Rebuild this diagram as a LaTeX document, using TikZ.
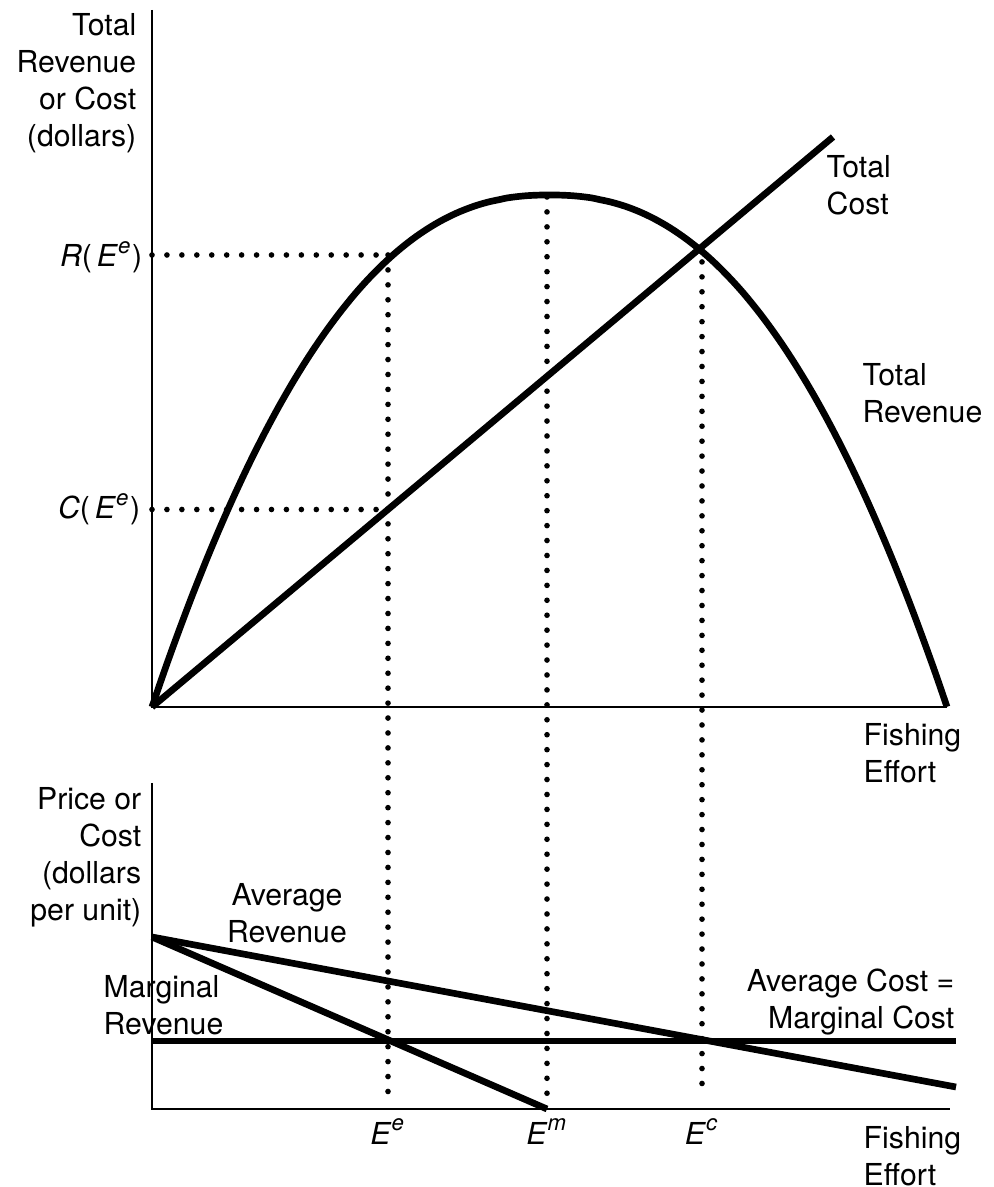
\documentclass[tikz,border=0pt]{standalone}
\usepackage{fontspec}
\setmainfont{TeX Gyre Heros}
\usetikzlibrary{positioning}

\tikzset{
  curve/.style={line width=1.9pt},
  axis/.style={line width=0.7pt},
  guide/.style={line width=1.6pt, dash pattern=on 0pt off 4.25pt, line cap=round},
  lbl/.style={inner sep=0pt, font=\fontsize{8.6}{10.5}\selectfont}
}
\newcommand{\Eff}[1]{\textit{E}\textsuperscript{\fontsize{6.3}{7}\selectfont\textit{#1}}}

\begin{document}
\begin{tikzpicture}
\useasboundingbox (-1.52,-4.80) rectangle (8.42,7.07);

% Upper panel: totals
\coordinate (O) at (0,0);
\draw[axis] (0,6.97) -- (O) -- (7.95,0);
\draw[curve] plot[domain=0:7.95, samples=120, smooth] (\x, {5.12*(1-pow(abs(\x/3.975-1),2.3))});
\coordinate (tc) at (6.81,5.70);
\draw[curve] (O) -- (tc);

% Key points on the curves
\coordinate (Re) at (2.36,4.52);
\coordinate (Ce) at (2.36,1.975);
\coordinate (Rm) at (3.95,5.10);
\coordinate (Rc) at (5.50,4.60);

% Lower panel: per unit
\coordinate (P) at (0,-4.02);
\coordinate (pa) at (0,-2.30);
\draw[axis] (0,-0.76) -- (P) -- (7.98,-4.02);
\draw[curve] (pa) -- (8.04,-3.80);
\draw[curve] (pa) -- (3.95,-4.02);
\draw[curve] (0,-3.34) -- (8.04,-3.34);

% Dotted guides
\coordinate (ee) at (2.36,-3.90);
\coordinate (em) at (3.95,-3.90);
\coordinate (ec) at (5.50,-3.90);
\draw[guide] (0,4.52) -- (Re);
\draw[guide] (0,1.975) -- (Ce);
\foreach \top/\bot in {Re/ee, Rm/em, Rc/ec} {
    \draw[guide] (\top) -- (\bot);
}

% Labels, upper panel
\node[lbl, anchor=north east, align=right] (ylab) at (-0.15,6.94) {Total\\Revenue\\or Cost\\(dollars)};
\node[lbl, anchor=east] (rlab) at (-0.09,4.50) {\textit{R}(\,\Eff{e})};
\node[lbl, anchor=east] (clab) at (-0.11,1.975) {\textit{C}(\,\Eff{e})};
\node[lbl, anchor=north west, align=left] (tclab) at (6.74,5.52) {Total\\Cost};
\node[lbl, anchor=north west, align=left] (trlab) at (7.10,3.44) {Total\\Revenue};
\node[lbl, anchor=north west, align=left] (xlab) at (7.11,-0.16) {Fishing\\Effort};

% Labels, lower panel
\node[lbl, anchor=north east, align=right] (plab) at (-0.10,-0.80) {Price or\\Cost\\(dollars\\per unit)};
\node[lbl, anchor=north, align=center] (arlab) at (1.35,-1.76) {Average\\Revenue};
\node[lbl, anchor=north west, align=left] (mrlab) at (-0.49,-2.68) {Marginal\\Revenue};
\node[lbl, anchor=north east, align=right] (mclab) at (8.03,-2.61) {Average Cost =\\Marginal Cost};
\node[lbl, below=0.09 of ee |- P] (eelab) {\Eff{e}};
\node[lbl, below=0.09 of em |- P] (emlab) {\Eff{m}};
\node[lbl, below=0.09 of ec |- P] (eclab) {\Eff{c}};
\node[lbl, anchor=north west, align=left] (xlab2) at (7.11,-4.19) {Fishing\\Effort};

\end{tikzpicture}
\end{document}
